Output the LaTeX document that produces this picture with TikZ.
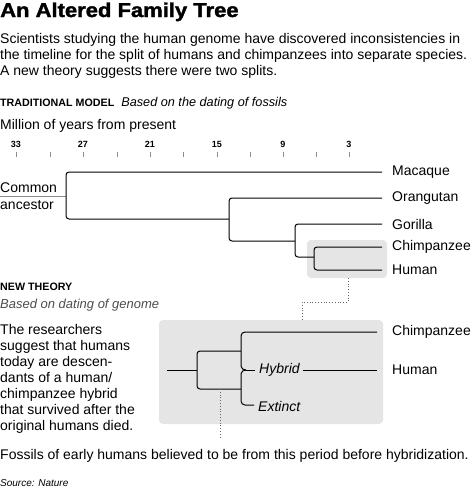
\documentclass[tikz,border=0pt]{standalone}
\usepackage{fontspec}
\usepackage{graphicx}
\setmainfont{Liberation Sans}
\newfontfamily\headfont{Liberation Sans}[BoldFeatures={FakeBold=1.6}]
\begin{document}
\begin{tikzpicture}[x=1pt,y=-1pt,
  txt/.style={anchor=base west,inner sep=0pt,font=\fontsize{14}{16}\selectfont},
  lbl/.style={anchor=west,inner sep=0pt,font=\fontsize{14}{16}\selectfont},
  axn/.style={anchor=base,inner sep=0pt,font=\bfseries\fontsize{9}{10}\selectfont},
  branch/.style={draw=black,line width=1pt,rounded corners=3pt},
  tick/.style={draw=black!45,line width=0.5pt},
  dots/.style={draw=black!60,line width=0.8pt,dotted},
  panel/.style={fill=black!10,draw=none,rounded corners=4pt}]
\useasboundingbox (0,0) rectangle (475,488);
% title and intro
\node[anchor=base west,inner sep=0pt] (title) at (0,17) {\scalebox{1.1}[1]{\headfont\bfseries\fontsize{20}{22}\selectfont An Altered Family Tree}};
\node[txt] (intro1) at (0,43) {Scientists studying the human genome have discovered inconsistencies in};
\node[txt] (intro2) at (0,59) {the timeline for the split of humans and chimpanzees into separate species.};
\node[txt] (intro3) at (0,75) {A new theory suggests there were two splits.};
\node[anchor=base west,inner sep=0pt] (trad) at (0,106) {\bfseries\fontsize{10.7}{12}\selectfont TRADITIONAL MODEL\hspace{7pt}\mdseries\itshape\fontsize{12.7}{14}\selectfont Based on the dating of fossils};
\node[txt] (million) at (0,129) {Million of years from present};
% axis
\foreach \v/\x in {33/16,27/83,21/150,15/217,9/283,3/349}{
  \node[axn] (ax\v) at (\x,147) {\v};
}
\foreach \x in {16,50,83,117,150,183,217,250,283,316,349}{
  \draw[tick] (\x,152) -- (\x,157);
}
% traditional tree
\fill[panel] (307,240) rectangle (387,278);
\node[lbl] (macaque) at (392,172) {Macaque};
\node[lbl] (orang) at (392,198) {Orangutan};
\node[lbl] (gorilla) at (392,224) {Gorilla};
\node[lbl] (chimp) at (392,247) {Chimpanzee};
\node[lbl] (human) at (392,270) {Human};
\node[txt] (common) at (0,192) {Common};
\node[txt] (ancestor) at (0,209) {ancestor};
\coordinate (ca) at (0,196);
\coordinate (r) at (66,196);
\coordinate (mEnd) at (382,172);
\coordinate (oEnd) at (382,198);
\coordinate (gEnd) at (382,224);
\coordinate (cEnd) at (382,247);
\coordinate (hEnd) at (382,270);
\draw[line width=1pt,draw=black!45] (ca) -- (r);
\draw[branch] (mEnd) -- (66,172) -- (66,219) -- (229,219);
\draw[branch] (oEnd) -- (229,198) -- (229,241) -- (295,241);
\draw[branch] (gEnd) -- (295,224) -- (295,257) -- (314,257);
\draw[branch] (cEnd) -- (314,247) -- (314,270) -- (hEnd);
% connector dotted
\coordinate (d1) at (348,278);
\coordinate (d2) at (348,302);
\coordinate (d3) at (302,302);
\coordinate (d4) at (302,320);
\draw[dots] (d1) -- (d2) -- (d3) -- (d4);
% new theory
\node[anchor=base west,inner sep=0pt,font=\bfseries\fontsize{10.7}{12}\selectfont] (newth) at (0,290) {NEW THEORY};
\node[anchor=base west,inner sep=0pt,font=\itshape\fontsize{13}{15}\selectfont,text=black!70] (genome) at (0,308) {Based on dating of genome};
\node[anchor=base west,inner sep=0pt,align=left,font=\fontsize{14}{16}\selectfont] (para) at (0,430) {The researchers\\suggest that humans\\today are descen-\\dants of a human/\\chimpanzee hybrid\\that survived after the\\original humans died.};
\fill[panel] (159,320) rectangle (383,424);
\node[lbl] (chimp2) at (392,332) {Chimpanzee};
\node[lbl] (human2) at (392,370) {Human};
\node[anchor=west,inner sep=0pt,font=\itshape\fontsize{14}{16}\selectfont] (hybrid) at (259,370) {Hybrid};
\node[anchor=west,inner sep=0pt,font=\itshape\fontsize{14}{16}\selectfont] (extinct) at (258,406) {Extinct};
\coordinate (entry) at (167,370);
\coordinate (c2End) at (377,332);
\coordinate (h2End) at (377,370);
\coordinate (cusp) at (246,370);
\draw[branch] (entry) -- (197,370);
\draw[branch] (241,351) -- (197,351) -- (197,389) -- (241,389);
\draw[line width=1pt] (c2End) -- (245,332) to[out=180,in=90] (241,336) -- (241,366) to[out=-90,in=180] (cusp);
\draw[line width=1pt] (cusp) to[out=180,in=90] (241,374) -- (241,401) to[out=-90,in=180] (245,405) -- ([xshift=-4pt]extinct.west|-245,405);
\draw[line width=1pt] (cusp) -- ([xshift=-4pt]hybrid.west);
\draw[line width=1pt] ([xshift=3pt]hybrid.east) -- (h2End);
\coordinate (f1) at (220,389);
\coordinate (f2) at (220,438);
\draw[dots] (f1) -- (f2);
\node[txt] (fossils) at (0,459) {Fossils of early humans believed to be from this period before hybridization.};
\node[anchor=base west,inner sep=0pt,font=\itshape\fontsize{10}{11}\selectfont] (source) at (0,486) {Source: Nature};
\end{tikzpicture}
\end{document}
